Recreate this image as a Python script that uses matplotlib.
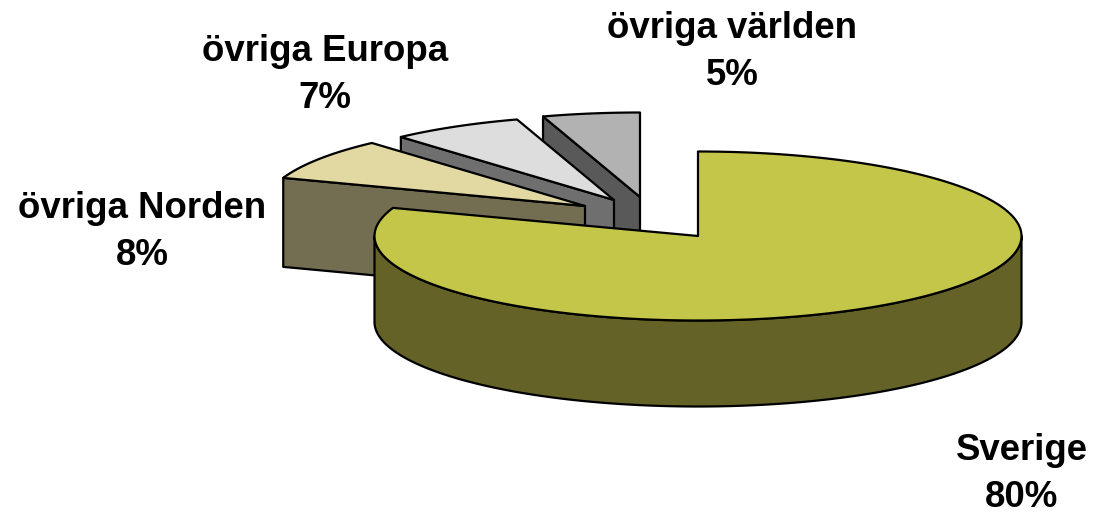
import numpy as np
import matplotlib
matplotlib.use("Agg")
import matplotlib.pyplot as plt
from matplotlib.patches import Polygon

# Data
categories = ["Sverige", "övriga Norden", "övriga Europa", "övriga världen"]
shares = [80.4, 8.0, 6.7, 4.9]

# Styles
top_colors = ["#C4C64A", "#E2D8A2", "#DDDDDD", "#B2B2B2"]
side_colors = ["#646226", "#736E52", "#6F6F6F", "#595959"]

# Layout (pixels)
apexes = [(698, 236), (585, 206), (614, 200), (640, 197)]
RXS = [323.5, 320, 320, 320]
RY = 84.5
DEPTHS = [86, 89, 89, 89]
label_pos = [(1022, 474), (142, 232), (325, 75), (732, 52)]
LW = 1.6

fig = plt.figure(figsize=(10.93, 5.13), dpi=100)
ax = fig.add_axes([0, 0, 1, 1])
ax.set_xlim(0, 1093)
ax.set_ylim(513, 0)
ax.axis("off")


def rim(apex, rx, a0, a1):
    """Points on the squashed circle between angles a0 and a1 (degrees)."""
    t = np.radians(np.linspace(a0, a1, 240))
    return np.column_stack([apex[0] + rx * np.cos(t), apex[1] - RY * np.sin(t)])


# Slice angles run clockwise from twelve o'clock
angles = 90 - 3.6 * np.cumsum([0] + shares)
slices = [(i, angles[i], angles[i + 1]) for i in range(len(shares))]

# Far slices first, the large front slice last
for i, start, end in reversed(slices):
    apex, depth, rx = apexes[i], DEPTHS[i], RXS[i]
    if i == 0:
        # Curved outer wall of the front slice: lower half of the rim
        arc = rim(apex, rx, -180, 0)
        wall = np.vstack([arc, (arc + [0, depth])[::-1]])
    else:
        # Cut face on the left radial edge of a rear slice
        outer = rim(apex, rx, start, start)[0]
        edge = np.array([outer, apex])
        wall = np.vstack([edge, (edge + [0, depth])[::-1]])
    ax.add_patch(Polygon(wall, closed=True, fc=side_colors[i], ec="black",
                         lw=LW, joinstyle="round", zorder=2 + (3 - i) * 2))
    top = np.vstack([[apex], rim(apex, rx, start, end)])
    ax.add_patch(Polygon(top, closed=True, fc=top_colors[i], ec="black",
                         lw=LW, joinstyle="round", zorder=3 + (3 - i) * 2))

for name, share, (x, y) in zip(categories, shares, label_pos):
    ax.text(x, y, f"{name}\n{round(share)}%", ha="center", va="center",
            family="Liberation Sans", weight="bold", fontsize=26.4,
            linespacing=1.42, color="black", zorder=20)

fig.savefig("out.png", dpi=100)
